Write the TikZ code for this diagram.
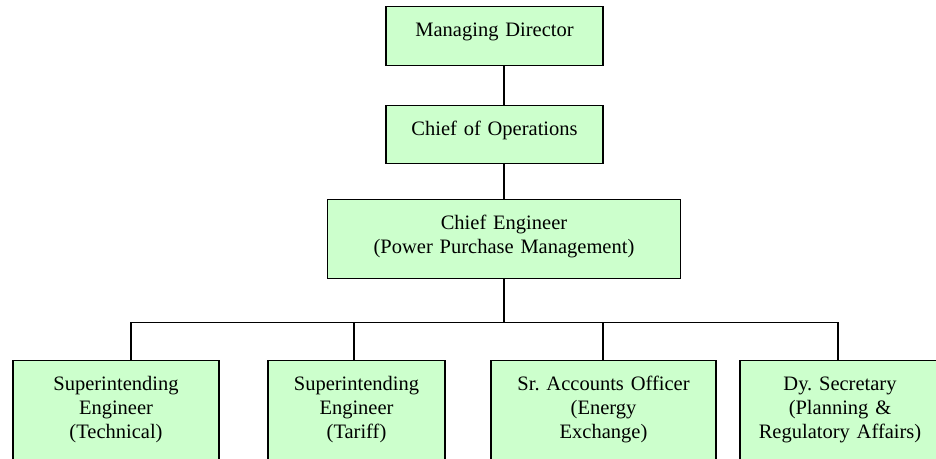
\documentclass[tikz,border=0pt]{standalone}
\usepackage{fontspec}
\setmainfont{Liberation Serif}
\usepackage{tikz}
\usetikzlibrary{positioning,calc}
\definecolor{boxgreen}{RGB}{204,255,204}
\frenchspacing

\begin{document}
\begin{tikzpicture}[x=1pt,y=-1pt,
        post/.style={draw, line width=1.3pt, fill=boxgreen, anchor=north,
            inner xsep=0pt, inner ysep=0pt, align=center, text height=29.5pt,
            font=\fontsize{20.5}{24}\selectfont},
        link/.style={line width=1.3pt}]
        \useasboundingbox (0,0) rectangle (936,458);
        \clip (0,0) rectangle (936,458);

        % Define the nodes
        \node[post, text width=217pt, text depth=29.5pt] (node1) at (494.5,6) {Managing Director};
        \node[post, text width=217pt, text depth=28.5pt] (node2) at (494.5,105) {Chief of Operations};
        \node[post, text width=353pt, text depth=49.5pt] (node3) at (504,199) {Chief Engineer\\(Power Purchase Management)};
        \node[post, text width=206pt, text depth=100pt] (node4) at (116,360) {Superintending\\Engineer\\(Technical)};
        \node[post, text width=177pt, text depth=100pt] (node5) at (356.5,360) {Superintending\\Engineer\\(Tariff)};
        \node[post, text width=225pt, text depth=100pt] (node6) at (603.5,360) {Sr. Accounts Officer\\(Energy\\Exchange)};
        \node[post, text width=200pt, text depth=100pt] (node7) at (840,360) {Dy. Secretary\\(Planning \&\\Regulatory Affairs)};

        % Draw the links
        \draw[link] (node3.north |- node1.south) -- (node3.north |- node2.north);
        \draw[link] (node3.north |- node2.south) -- (node3.north);
        \coordinate[below=43pt of node3.south] (bus);
        \draw[link] (node3.south) -- (bus);
        \draw[link] (bus) -| ([xshift=15pt]node4.north);
        \draw[link] (bus) -| ([xshift=-2.5pt]node5.north);
        \draw[link] (bus) -| ([xshift=-0.5pt]node6.north);
        \draw[link] (bus) -| ([xshift=-2pt]node7.north);
\end{tikzpicture}
\end{document}
